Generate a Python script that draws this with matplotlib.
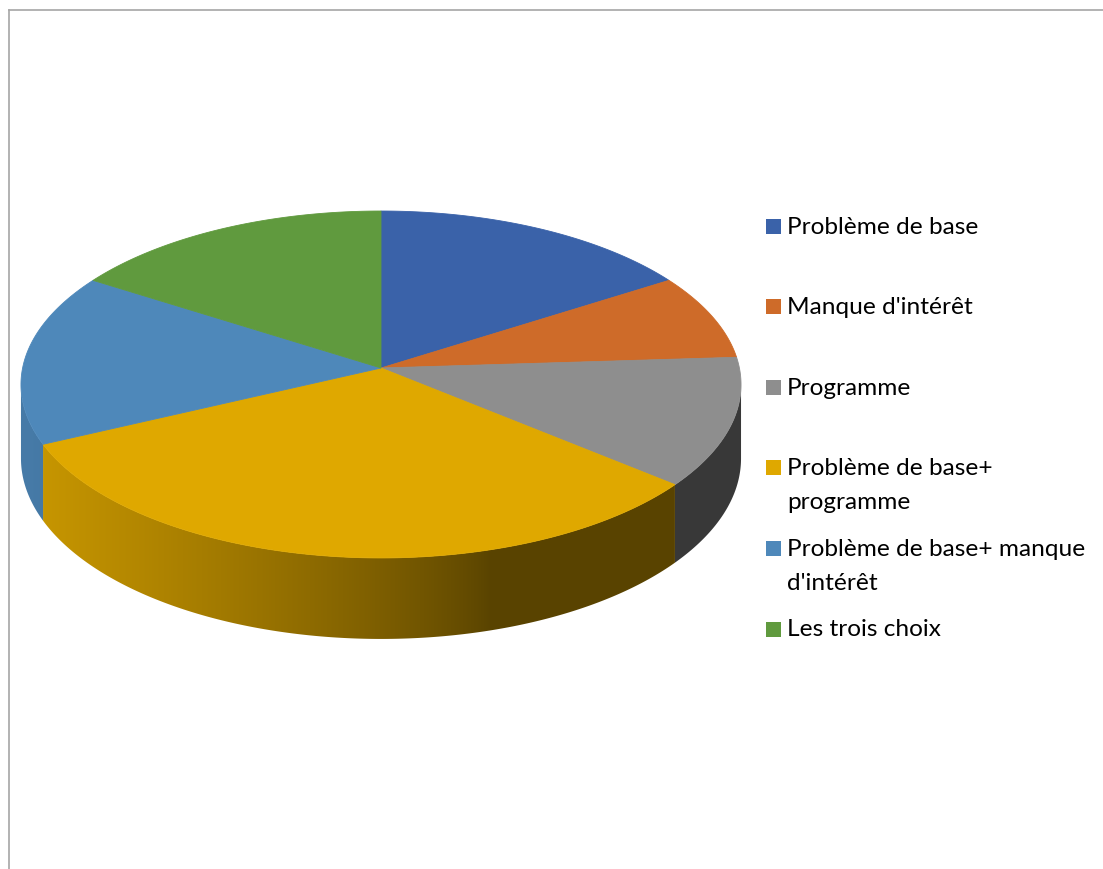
import numpy as np
import matplotlib.pyplot as plt
from matplotlib.patches import Polygon, Rectangle
from matplotlib.colors import to_rgb

plt.rcParams['font.family'] = ['Lato', 'DejaVu Sans']

labels = ["Problème de base", "Manque d'intérêt", "Programme",
          "Problème de base+\nprogramme", "Problème de base+ manque\nd'intérêt",
          "Les trois choix"]
values = [8, 4, 6, 16, 8, 8]
colors = ["#3A62A9", "#CE6B29", "#8E8E8E", "#DFA800", "#4E88BA", "#609A3E"]

# disk seen in perspective, pixel units
CX, CY = 381, 369
RX, RY = 358.4, 171.9
K = 0.095
DEPTH = 73.3


def project(theta, down=0.0):
    X, Z = np.sin(theta), np.cos(theta)
    w = 1 + K * Z
    return CX + RX * X / w, CY - RY * Z / w + down * DEPTH / w


fig = plt.figure(figsize=(11.03, 8.70), dpi=100)
ax = fig.add_axes([0, 0, 1, 1])
ax.set_xlim(0, 1103)
ax.set_ylim(870, 0)
ax.axis('off')

# frame
ax.plot([9, 1103], [11, 11], color='#A6A6A6', lw=1.2)
ax.plot([9, 9], [11, 870], color='#A6A6A6', lw=1.2)

bounds = np.concatenate([[0], np.cumsum(values)]) / sum(values) * 2 * np.pi

# wall lighting: bright on the left, flat dark from the middle-right on
cols = np.arange(0, 1103)
s = np.clip((490 - cols) / 460.0, 0, 1)
light_col = 0.4 + 0.5 * s ** 0.8

t_front = (np.arccos(-K), 2 * np.pi - np.arccos(-K))
for i, c in enumerate(colors):
    a0 = max(bounds[i], t_front[0])
    a1 = min(bounds[i + 1], t_front[1])
    if a1 <= a0:
        continue
    t = np.linspace(a0, a1, 300)
    top = np.column_stack(project(t))
    bot = np.column_stack(project(t[::-1], 1))
    wall = Polygon(np.vstack([top, bot]), closed=True, facecolor='none', edgecolor='none')
    ax.add_patch(wall)
    base = np.array(to_rgb(c))
    img = np.clip(light_col[None, :, None] * base[None, None, :], 0, 1)
    img = np.repeat(img, 2, axis=0)
    im = ax.imshow(img, extent=(0, 1103, 870, 0), aspect='auto', interpolation='bilinear')
    im.set_clip_path(wall)

# top faces
for i, c in enumerate(colors):
    t = np.linspace(bounds[i], bounds[i + 1], 200)
    pts = [(CX, CY)] + [project(a) for a in t]
    ax.add_patch(Polygon(pts, closed=True, facecolor=c, edgecolor=c, lw=0.6))

ax.set_xlim(0, 1103)
ax.set_ylim(870, 0)

# legend
y0, step = 227, 80.6
for i, (lab, c) in enumerate(zip(labels, colors)):
    yc = y0 + i * step
    ax.add_patch(Rectangle((766, yc - 7.5), 15, 15, facecolor=c, edgecolor='none'))
    for j, line in enumerate(lab.split('\n')):
        ax.text(787, yc + j * 34, line, fontsize=17.6, color='black', va='center', ha='left')

fig.savefig('out.png', dpi=100)
